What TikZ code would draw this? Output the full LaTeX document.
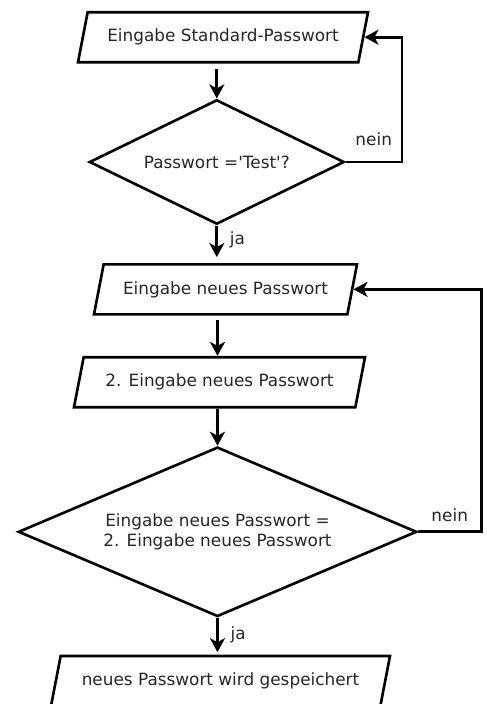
\documentclass[tikz,border=0pt]{standalone}
\usepackage{fontspec}
\setmainfont{DejaVu Sans}
\usepackage{tikz}
\usetikzlibrary{shapes,arrows.meta,positioning,calc}

\begin{document}
\begin{tikzpicture}[node distance=2.5cm, auto, >={Stealth[length=0.28cm, width=0.3cm, inset=0.08cm]}, line width=1.5pt,
        inbox/.style={draw, trapezium, trapezium left angle=71, trapezium right angle=109, trapezium stretches body, minimum height=1cm, text=black!85, font=\fontsize{9.6}{11.6}\selectfont},
        query/.style={draw, diamond, aspect=2, align=center, text=black!85, font=\fontsize{9.6}{11.6}\selectfont},
        tag/.style={text=black!85, font=\fontsize{9.6}{11.6}\selectfont}]
        \useasboundingbox (0,0) rectangle (9.72,-14.08);
        \node (input) [inbox, minimum width=5.8cm] at (4.46,-0.744) {Eingabe Standard-Passwort};
        \node (check) [query, minimum width=5.1cm, minimum height=2.49cm, below of=input, node distance=2.496cm, xshift=-0.124cm] {Passwort =\textquotesingle Test\textquotesingle ?};
        \node (newpw) [inbox, minimum width=5.26cm, below of=check, node distance=2.547cm, xshift=0.174cm] {Eingabe neues Passwort};
        \node (repeatpw) [inbox, minimum width=5.82cm, below of=newpw, node distance=1.857cm, xshift=-0.12cm] {2. Eingabe neues Passwort};
        \node (compare) [query, minimum width=7.97cm, minimum height=3.39cm, below of=repeatpw, node distance=2.992cm, xshift=-0.04cm] {Eingabe neues Passwort =\\2. Eingabe neues Passwort};
        \node (save) [inbox, minimum width=6.78cm, below of=compare, node distance=2.984cm, xshift=0.06cm] {neues Passwort wird gespeichert};

        \draw[->, shorten <=0.1cm] (input.south -| check.north) -- (check.north);
        \draw[->, shorten >=0.12cm] (check.south) -- node[tag, right=0.12cm, pos=0.39] {ja} (check.south |- newpw.north);
        \draw[->] (check.east) -- node[tag, above=0.18cm] {nein} ++(1.124,0) |- (input.east);
        \draw[->, shorten <=0.08cm] (newpw.south -| compare.north) -- (repeatpw.north -| compare.north);
        \draw[->] (repeatpw.south -| compare.north) -- (compare.north);
        \draw[->] (compare.east) -- node[tag, above=0.06cm] {nein} ++(1.266,0) |- (newpw.east);
        \draw[->, shorten >=0.05cm] (compare.south) -- node[tag, right=0.12cm, pos=0.46] {ja} (compare.south |- save.north);
    \end{tikzpicture}
\end{document}
